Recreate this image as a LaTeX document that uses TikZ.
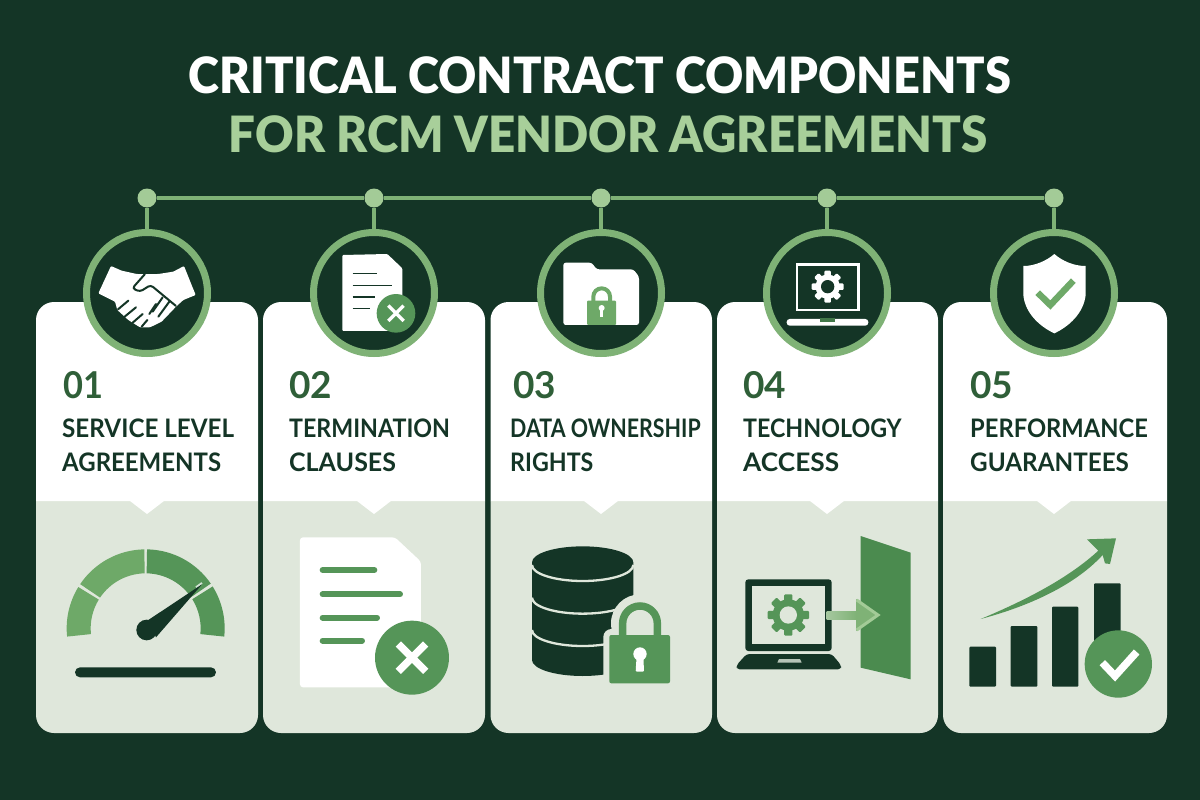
\documentclass[tikz,border=0pt]{standalone}
\usepackage{fontspec}
\setmainfont{Lato}
\newfontfamily\ttlfont{Lato Black}
\usetikzlibrary{calc}
\definecolor{bgd}{HTML}{143526}
\definecolor{tint}{HTML}{DFE7DB}
\definecolor{ringg}{HTML}{7FB276}
\definecolor{dotg}{HTML}{A3CB97}
\definecolor{midg}{HTML}{559558}
\definecolor{doorg}{HTML}{4B8B4F}
\definecolor{lightg}{HTML}{6EA968}
\definecolor{numg}{HTML}{2F5F38}
\definecolor{ttlg}{HTML}{A8CF9A}
\newcommand{\lab}[2]{\scalebox{#1}[1]{#2}}
\tikzset{
  dotn/.style={circle,fill=dotg,inner sep=0pt,minimum size=19pt},
  ringn/.style={circle,draw=ringg,fill=bgd,line width=7pt,inner sep=0pt,minimum size=121pt},
  linkl/.style={draw=ringg,line width=4.5pt},
  ttl/.style={font=\ttlfont\fontsize{50}{50}\selectfont,anchor=base,inner sep=0pt},
  numt/.style={font=\bfseries\fontsize{37}{37}\selectfont,text=numg,anchor=base west,inner sep=0pt},
  labt/.style={font=\bfseries\fontsize{25.5}{25.5}\selectfont,text=bgd,anchor=base west,inner sep=0pt},
  zA/.style={shift={(30,170)},x=.33333pt,y=-.33333pt},
  zB/.style={shift={(30,500)},x=.33333pt,y=-.33333pt},
  zC/.style={shift={(490,170)},x=.33333pt,y=-.33333pt},
  zD/.style={shift={(490,500)},x=.33333pt,y=-.33333pt},
  zE/.style={shift={(940,170)},x=.33333pt,y=-.33333pt},
  zF/.style={shift={(940,520)},x=.33333pt,y=-.33333pt},
}
\newcommand{\cardshape}[3]{%
  \fill[tint] (#1,501) -- (#1,715) arc (180:90:18) -- (#2-18,733) arc (90:0:18) -- (#2,501) -- cycle;
  \fill[white] (#1,501) -- (#1,320) arc (-180:-90:18) -- (#2-18,302) arc (-90:0:18) -- (#2,501) -- (#3+17,501) -- (#3,514) -- (#3-17,501) -- cycle;
}
\newcommand{\gearshape}[6]{%
  \fill[#5] (#1,#2) circle ({0.76*#3});
  \foreach \a in {0,45,...,315}{
    \fill[#5,rotate around={\a:(#1,#2)},rounded corners=1pt] ({#1-0.2*#3},{#2-#3}) rectangle ({#1+0.2*#3},{#2-0.6*#3});
  }
  \fill[#6] (#1,#2) circle (#4);
}
\newcommand{\gseg}[3]{%
  \fill[#3] ($(347,385)+(-#1:237)$) arc (-#1:-#2:237) -- ($(347,385)+(-#2:165)$) arc (-#2:-#1:165) -- cycle;
}
\begin{document}
\begin{tikzpicture}[x=1pt,y=-1pt]
\useasboundingbox (0,0) rectangle (1200,800);
\fill[bgd] (0,0) rectangle (1200,800);

\node[ttl,text=white] (t1) at (600,93) {\lab{.94}{CRITICAL CONTRACT COMPONENTS}};
\node[ttl,text=ttlg] (t2) at (608,152) {\lab{.95}{FOR RCM VENDOR AGREEMENTS}};

\cardshape{36}{258}{147}
\cardshape{263}{485}{374}
\cardshape{490.5}{712}{601}
\cardshape{717}{938}{827}
\cardshape{943}{1167}{1054}

\node[dotn] (d1) at (147,198) {};
\node[dotn] (d2) at (374,198) {};
\node[dotn] (d3) at (601,198) {};
\node[dotn] (d4) at (827,198) {};
\node[dotn] (d5) at (1054,198) {};
\node[ringn] (r1) at (147,293) {};
\node[ringn] (r2) at (374,293) {};
\node[ringn] (r3) at (601,293) {};
\node[ringn] (r4) at (827,293) {};
\node[ringn] (r5) at (1054,293) {};
\draw[linkl] (d1) -- (d2);
\draw[linkl] (d2) -- (d3);
\draw[linkl] (d3) -- (d4);
\draw[linkl] (d4) -- (d5);
\draw[linkl] (d1) -- (r1);
\draw[linkl] (d2) -- (r2);
\draw[linkl] (d3) -- (r3);
\draw[linkl] (d4) -- (r4);
\draw[linkl] (d5) -- (r5);

\node[numt] (n1) at (63,398) {\lab{.93}{01}};
\node[labt] (a1) at (62,437) {\lab{.95}{SERVICE LEVEL}};
\node[labt] (b1) at (62,471) {\lab{.94}{AGREEMENTS}};
\node[numt] (n2) at (289,398) {02};
\node[labt] (a2) at (289,437) {\lab{.91}{TERMINATION}};
\node[labt] (b2) at (289,471) {\lab{.98}{CLAUSES}};
\node[numt] (n3) at (513,398) {03};
\node[labt] (a3) at (510,437) {\lab{.84}{DATA OWNERSHIP}};
\node[labt] (b3) at (510,471) {\lab{.91}{RIGHTS}};
\node[numt] (n4) at (743,398) {04};
\node[labt] (a4) at (743,437) {\lab{.91}{TECHNOLOGY}};
\node[labt] (b4) at (743,471) {\lab{1.03}{ACCESS}};
\node[numt] (n5) at (970,398) {05};
\node[labt] (a5) at (970,437) {\lab{.93}{PERFORMANCE}};
\node[labt] (b5) at (970,471) {\lab{.95}{GUARANTEES}};

% handshake + small doc
\begin{scope}[zA]
\fill[white,rounded corners=1pt] (243,288) -- (275,302) -- (320,312) -- (385,312) -- (430,305) -- (462,288) -- (497,375) -- (460,390) -- (438,410) -- (395,455) -- (360,472) -- (330,472) -- (295,450) -- (262,420) -- (255,395) -- (205,370) -- cycle;
\draw[bgd,line width=2pt,rounded corners=3pt,fill=white] (438,408) -- (362,345) -- (330,365) -- (307,355) -- (345,312);
\draw[bgd,line width=2pt,line cap=round] (295,392) -- (264,418);
\draw[bgd,line width=2pt,line cap=round] (318,412) -- (284,440);
\draw[bgd,line width=2pt,line cap=round] (338,432) -- (308,458);
\draw[bgd,line width=2pt,line cap=round] (352,450) -- (335,470);
\draw[bgd,line width=2pt,line cap=round] (378,402) -- (358,432);
\draw[bgd,line width=2pt,line cap=round] (398,382) -- (368,425);
\draw[bgd,line width=2pt,line cap=round] (418,395) -- (385,440);
\fill[white,rounded corners=1pt] (937,255) -- (1072,252) -- (1117,295) -- (1117,483) -- (937,483) -- cycle;
\foreach \y/\e in {311/1040,347/1085,381/1035,415/1020}
  \draw[bgd,line width=1.6pt] (968,\y) -- (\e,\y);
\fill[midg] (1098,430) circle (58);
\draw[white,line width=3.4pt] (1075,407) -- (1121,453);
\draw[white,line width=3.4pt] (1121,407) -- (1075,453);
\end{scope}

% gauge and big doc
\begin{scope}[zB]
\gseg{186}{148.5}{lightg}
\gseg{146}{91}{lightg}
\gseg{89}{34.5}{midg}
\gseg{32}{-6}{midg}
\fill[bgd] (350,390) circle (31);
\draw[white,opacity=.75,line width=2pt,line join=round] (516,249) -- (498,262);
\fill[bgd] (355,360) -- (516,253) -- (378,412) -- cycle;
\fill[bgd,rounded corners=5pt] (135,502) rectangle (558,532);
\fill[white,rounded corners=3pt] (810,112) -- (1095,112) -- (1173,185) -- (1173,562) -- (810,562) -- cycle;
\foreach \y/\e in {210/1036,283/1113,353/1044,422/999}
  \draw[midg,line width=6pt,line cap=round] (878,\y) -- (\e-3,\y);
\fill[midg] (1146,473) circle (111);
\draw[white,line width=7.5pt] (1105,432) -- (1187,514);
\draw[white,line width=7.5pt] (1187,432) -- (1105,514);
\end{scope}

% folder and small laptop
\begin{scope}[zC]
\fill[white,rounded corners=2.5pt] (220,278) -- (305,278) -- (320,298) -- (430,298) -- (447,320) -- (447,465) -- (220,465) -- cycle;
\draw[lightg,line width=4pt] (310,395) -- (310,380) arc (180:360:25) -- (360,395);
\fill[lightg,rounded corners=1pt] (291,392) rectangle (378,465);
\fill[white] (335,414) circle (9);
\fill[white] (330,416) rectangle (340,440);
\draw[white,line width=2.8pt] (921,284) rectangle (1106,420);
\gearshape{1013}{350}{48}{20}{white}{bgd}
\fill[white,rounded corners=3pt] (890,447) rectangle (1135,467);
\fill[midg!70!bgd] (990,445) rectangle (1035,455);
\end{scope}

% database and laptop with door
\begin{scope}[zD]
\fill[bgd] (126,187) -- (126,480) arc (180:0:152 and 48) -- (430,187) arc (0:-180:152 and 48) -- cycle;
\foreach \y in {195,293,390}
  \draw[tint,line width=2.3pt] (126,\y) arc (180:0:152 and 48);
\fill[tint,rounded corners=8pt] (340,387) rectangle (558,568);
\fill[tint] (450,370) circle (87);
\draw[midg,line width=7.5pt] (398,410) -- (398,370) arc (180:360:52) -- (502,410);
\fill[midg,rounded corners=2pt] (358,405) rectangle (540,550);
\fill[white] (450,462) circle (20);
\fill[white,rounded corners=1pt] (440,465) -- (460,465) -- (462,515) -- (437,515) -- cycle;
\fill[doorg] (1112,108) -- (1262,158) -- (1262,538) -- (1112,503) -- cycle;
\fill[bgd,rounded corners=3pt] (766,238) rectangle (1025,453);
\fill[tint] (785,258) rectangle (1006,433);
\gearshape{895}{345}{62}{26}{midg}{tint}
\fill[bgd,rounded corners=3pt] (770,462) -- (1025,462) -- (1053,495) -- (1053,508) -- (740,508) -- (740,495) -- cycle;
\fill[tint!80!bgd] (867,477) -- (930,477) -- (935,488) -- (862,488) -- cycle;
\shade[left color=ringg!60!tint,right color=ringg] (1010,333) rectangle (1100,357);
\fill[ringg] (1098,297) -- (1168,345) -- (1098,393) -- cycle;
\draw[dotg,line width=3pt] (1100,300) -- (1164,345) -- (1100,390);
\end{scope}

% shield
\begin{scope}[zE]
\fill[white] (343,252) .. controls (320,272) and (285,288) .. (250,288) -- (250,375) .. controls (255,430) and (300,470) .. (343,490) .. controls (386,470) and (431,430) .. (437,375) -- (437,288) .. controls (400,288) and (366,272) .. (343,252) -- cycle;
\draw[lightg,line width=6.5pt] (293,368) -- (331,405) -- (400,332);
\end{scope}

% chart
\begin{scope}[zF]
\fill[bgd,rounded corners=1pt] (88,380) rectangle (168,500);
\fill[bgd,rounded corners=1pt] (212,318) rectangle (292,500);
\fill[bgd,rounded corners=1pt] (336,260) rectangle (415,500);
\fill[bgd,rounded corners=1pt] (462,190) rectangle (542,400);
\fill[midg] (535,432) circle (101);
\draw[white,line width=7.5pt] (487,428) -- (525,468) -- (590,396);
\fill[midg] (122,297) .. controls (270,235) and (390,170) .. (475,92) -- (441,58) -- (528,55) -- (510,132) -- (495,130) -- (488,105) .. controls (410,190) and (280,255) .. (122,297) -- cycle;
\end{scope}
\end{tikzpicture}
\end{document}
